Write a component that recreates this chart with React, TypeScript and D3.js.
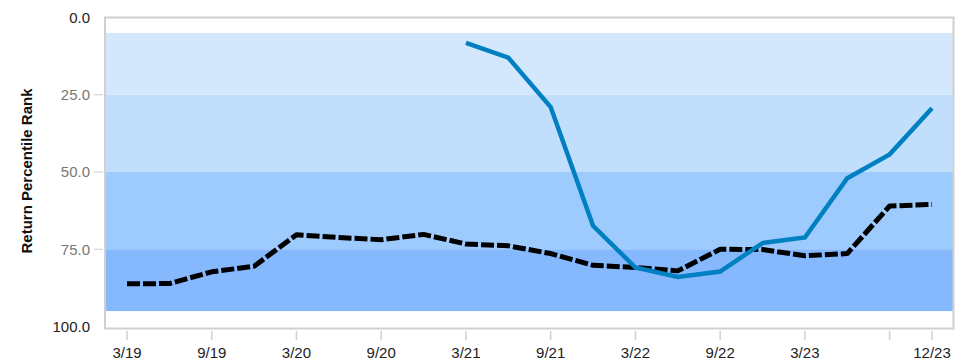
import React from "react";
import * as d3 from "d3";

const quarters = ["3/19","6/19","9/19","12/19","3/20","6/20","9/20","12/20","3/21","6/21","9/21","12/21","3/22","6/22","9/22","12/22","3/23","6/23","9/23","12/23"];
const benchmark = [86.2,86.1,82.3,80.5,70.3,71.2,71.9,70.2,73.3,73.9,76.4,80.2,80.9,82.0,75.0,75.1,77.1,76.4,61.0,60.5];
const fund: (number | null)[] = [null,null,null,null,null,null,null,null,8.2,13.0,29.0,67.4,80.9,84.0,82.2,73.0,71.2,52.0,44.3,29.4];
const tickQuarters = ["3/19","9/19","3/20","9/20","3/21","9/21","3/22","9/22","3/23","9/23","12/23"];
const tickLabels = ["3/19","9/19","3/20","9/20","3/21","9/21","3/22","9/22","3/23","","12/23"];
const yTicks = [0, 25, 50, 75, 100];
const bandEdges = [5, 25, 50, 75, 95];
const bandColors = ["#d4e8fd", "#c1dffd", "#9ecbfd", "#85b8fd"];

export default function App() {
  const W = 974, H = 362;
  const frame = { left: 105, right: 953.5, top: 17.5, bottom: 328.5 };
  const x = d3.scalePoint<string>().domain(quarters).range([127, 932]);
  const y = d3.scaleLinear().domain([0, 100]).range([17.5, 326.5]);
  const font = "'Liberation Sans', Arial, Helvetica, sans-serif";

  const line = d3.line<number | null>()
    .defined((d) => d !== null)
    .x((_, i) => x(quarters[i]) as number)
    .y((d) => y(d as number));

  return (
    <svg width={W} height={H} style={{ position: "absolute", left: 0, top: 0 }} fontFamily={font}>
      <rect x={0} y={0} width={W} height={H} fill="#fff" />
      {bandColors.map((c, i) => (
        <rect key={i} x={frame.left} width={frame.right - frame.left}
          y={y(bandEdges[i])} height={y(bandEdges[i + 1]) - y(bandEdges[i])} fill={c} />
      ))}
      <rect x={frame.left} y={frame.top} width={frame.right - frame.left} height={frame.bottom - frame.top}
        fill="none" stroke="#d0d0d0" strokeWidth={2} />
      {yTicks.map((t) => (
        <g key={t}>
          {t !== 0 && t !== 100 && (
            <line x1={94} x2={103} y1={y(t)} y2={y(t)} stroke="#cccccc" strokeWidth={1} />
          )}
          <text x={90} y={y(t)} dy="0.35em" textAnchor="end" fontSize={15}
            fill={t === 0 || t === 100 ? "#222" : "#777"}>{t.toFixed(1)}</text>
        </g>
      ))}
      {tickQuarters.map((q, i) => (
        <g key={q}>
          <line x1={x(q)} x2={x(q)} y1={331} y2={340} stroke="#d0d0d0" strokeWidth={1.5} />
          <text x={x(q)} y={358} textAnchor="middle" fontSize={15} fill="#222">{tickLabels[i]}</text>
        </g>
      ))}
      <text transform={`translate(32,${171}) rotate(-90)`} textAnchor="middle" fontSize={15}
        fontWeight="bold" fill="#111">Return Percentile Rank</text>
      <path d={line(benchmark) || ""} fill="none" stroke="#000" strokeWidth={5}
        strokeDasharray="13,3" strokeLinejoin="round" />
      <path d={line(fund) || ""} fill="none" stroke="#0080c0" strokeWidth={4.5} strokeLinejoin="miter" />
    </svg>
  );
}
